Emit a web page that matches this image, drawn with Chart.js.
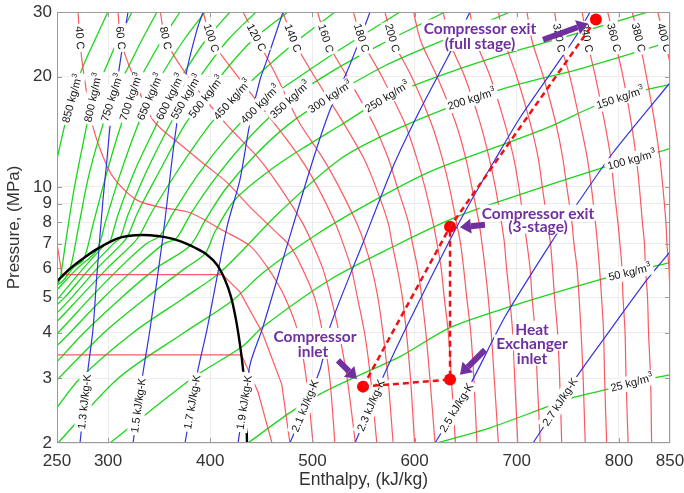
<!DOCTYPE html>
<html>
<head>
<meta charset="utf-8">
<script src="https://cdn.jsdelivr.net/npm/chart.js@4.4.1/dist/chart.umd.min.js"></script>
<style>
  html, body { margin: 0; padding: 0; background: #fff; }
</style>
</head>
<body>
<canvas id="chart" width="684" height="493"></canvas>
<script>
// ---------- values (h in kJ/kg, P in MPa) ----------
const xTicks = [250, 300, 400, 500, 600, 700, 800, 850];
const yTicks = [2, 3, 4, 5, 6, 7, 8, 9, 10, 20, 30];

// pressure grid used by the warmer isotherms
const isoP = [30, 25, 20, 15, 12, 10, 8, 7, 6, 5, 4, 3, 2];
const hotTemps = [80, 100, 120, 140, 160, 180, 200, 220, 240, 260, 280, 300, 320, 340, 360, 380, 400];
const h80  = [351, 357, 378, 414, 447, 468, 490, 500, 510, 518, 526, 534, 542];
const h100 = [393, 402, 427, 462, 488, 505, 522, 530, 538, 544, 551, 557, 563];
const h120 = [432, 447, 465, 487, 510, 526, 543, 551, 558, 564, 569, 574, 579];
const h140 = [471, 482, 502, 530, 550, 562, 574, 578, 583, 588, 592, 596, 600];
const h160 = [505, 514, 534, 559, 574, 583, 594, 598, 603, 607, 611, 615, 620];
const h180 = [540, 549, 568, 590, 602, 610, 618, 622, 626, 629, 633, 636, 640];
const h200 = [571, 579, 597, 616, 627, 634, 641, 645, 648, 651, 655, 658, 661];
const h220 = [599, 606, 622, 640, 650, 656, 663, 666, 669, 672, 675, 678, 682];
const h240 = [628, 634, 649, 664, 673, 679, 685, 688, 690, 693, 696, 698, 701];
const h260 = [654, 660, 674, 688, 697, 702, 707, 710, 713, 715, 718, 720, 723];
const h280 = [682, 688, 700, 713, 721, 725, 730, 733, 735, 737, 740, 742, 744];
const h300 = [710, 715, 726, 738, 745, 749, 754, 756, 759, 761, 763, 765, 767];
const h320 = [737, 742, 752, 762, 769, 773, 777, 779, 781, 783, 785, 786, 788];
const h340 = [764, 769, 777, 786, 792, 795, 799, 801, 803, 804, 806, 807, 809];
const h360 = [789, 796, 804, 812, 817, 820, 823, 825, 826, 828, 829, 831, 832];
const h380 = [813, 820, 827, 835, 840, 843, 846, 847, 849, 850, 852, 853, 855];
const h400 = [838, 845, 853, 861, 866, 869, 872, 874, 875, 877, 878, 880, 881];

// colder isotherms as [h, P]
const t0  = [[200, 3.48], [430.5, 3.48], [446.7, 2.76], [460.4, 2]];
const t20 = [[240, 12], [250, 7], [254.9, 5.76], [412, 5.76], [429, 5.17], [451, 4.0], [470, 2.89], [478, 2]];
const t40 = [[270.6, 30], [272.5, 25], [275.4, 21.1], [285.2, 14.6], [298.9, 11.4], [308.7, 10.3], [328.3, 9.2],
             [350.8, 8.8], [380.2, 8.5], [412.5, 7.6], [438.9, 6.9], [456.5, 6], [473, 5], [486, 4], [494, 3], [500.6, 2]];
const t60 = [[309.7, 30], [312.6, 25], [323, 20.6], [344, 15.2], [373, 12.9], [393, 11.6], [416, 10.3], [439, 8.8],
             [465, 7.5], [478, 6.9], [490, 6], [502, 5], [510, 4], [517, 3], [522, 2]];

// saturation dome
const dome = [[240, 5.15], [250, 5.52], [262.7, 5.98], [275.4, 6.37], [288.2, 6.74], [301.9, 7.08], [313.6, 7.29],
              [326.3, 7.38], [341, 7.38], [355.7, 7.29], [370.4, 7.11], [385.1, 6.82], [396.8, 6.53], [406.6, 6.13],
              [414.4, 5.58], [420.3, 5.01], [425.2, 4.34], [429.1, 3.71], [432.1, 3.17], [435, 2.47], [436, 2]];

// isentropes (kJ/kg-K)
const s13 = [[272.5, 2], [280.3, 3.17], [285.2, 4.08], [289.2, 5.83], [295, 9.22], [298.9, 11.86], [301.9, 14.6],
             [306.8, 17.8], [311.7, 21.8], [316.6, 26.8], [319.5, 30]];
const s15 = [[324.4, 2], [334.2, 3.11], [341, 4.08], [353.7, 7.31], [362.6, 11.86], [367.5, 15], [377.2, 20.9],
             [387, 26.8], [392.9, 30]];
const s17 = [[375.3, 2], [388, 3.17], [396.8, 4.08], [416.4, 7.78], [429.1, 10.46], [438.9, 15], [448.7, 19.6],
             [455.5, 22.2], [471.2, 30]];
const s19 = [[427.2, 2], [438.9, 3.27], [451.6, 4.15], [475.1, 6.9], [500.6, 11.86], [517.2, 16.2], [533.8, 20.6],
             [543.6, 24.1], [556.4, 30]];
const s21 = [[478, 2], [507.4, 3.17], [517.2, 4.15], [549.5, 7.04], [578.9, 11.35], [605.3, 16.2], [632.7, 22.65], [654.2, 30]];
const s23 = [[541.7, 2], [569.1, 3.03], [595.5, 4.34], [634.7, 7.17], [654.2, 9.05], [678.7, 11.86], [703.2, 15.44],
             [742.3, 22.2], [761.9, 26.8], [771.7, 30]];
const s25 = [[620, 2], [654.2, 2.88], [688.5, 4.42], [735.5, 7.17], [761.9, 9.22], [794.2, 12.39], [850, 19.24]];
const s27 = [[715.9, 2], [759.9, 3.07], [793.2, 4.13], [827.5, 5.58], [850, 6.65]];

// isochores (kg/m3)
const d25  = [[621.9, 2], [673.8, 2.2], [729.6, 2.51], [755, 2.66], [788.3, 2.8], [820.6, 2.96], [850, 3.07]];
const d50  = [[437, 2], [478, 2.42], [507.4, 2.72], [546.6, 3.07], [585.7, 3.44], [634.7, 4.13], [693.4, 4.71],
              [788.3, 5.65], [820.6, 5.94], [850, 6.21]];
const d100 = [[301.9, 2], [382.1, 3], [431, 3.66], [451.6, 4.15], [517.2, 5.58], [582.8, 6.95], [634.7, 8.14],
              [673.8, 8.94], [784.4, 11.28], [812.8, 11.86], [850, 12.71]];
const d150 = [[251, 2], [309.7, 3], [374.3, 4], [421.5, 4.89], [451.6, 5.83], [500.6, 7.31], [549.5, 8.83], [615.1, 11],
              [680.7, 12.87], [732.5, 14.6], [774.6, 16.54], [801.1, 17.5], [827.5, 18.41], [850, 19]];
const d200 = [[236, 2.2], [250, 2.5], [272.5, 3], [324.4, 4], [375.3, 5], [410.5, 5.87], [468.3, 8.55], [527, 11.9],
              [585.7, 14.5], [654.2, 17.3], [703.2, 19.1], [761.9, 21], [852.9, 25]];
const d250 = [[240, 2.75], [251, 2.99], [296, 4.0], [338.1, 5.0], [376.3, 6.02], [394.9, 6.57], [404.6, 7.54], [424.2, 9.22],
              [458.5, 11.1], [487.8, 12.6], [527, 14.7], [573, 17.6], [635.6, 20.6], [692.4, 23.2], [754.1, 26], [835.3, 30.4]];
const d300 = [[240, 3.1], [250, 3.33], [276.4, 4], [313.6, 5], [347.9, 6.02], [380.2, 6.91], [394.9, 8.09], [414.4, 9.82],
              [443.8, 12.2], [478, 14.9], [517.2, 17.6], [571, 21.4], [624.9, 24.9], [693.4, 30]];
const d350 = [[240, 3.5], [250, 3.69], [262.7, 4], [296, 5], [327.3, 6.02], [354.7, 7], [366.5, 7.22], [382.1, 8.55],
              [407.6, 10.8], [440.9, 13.9], [478, 17.3], [517.2, 20.5], [566.1, 24.4], [629.8, 30]];
const d400 = [[240, 3.75], [250, 3.97], [283.3, 5], [311.7, 6.02], [337.6, 7], [350.8, 7.36], [362.6, 8.39], [388, 10.8],
              [419.3, 13.9], [448.7, 16.8], [482.9, 19.6], [527, 23.7], [585.7, 30]];
const d450 = [[240, 4.05], [250, 4.29], [272.5, 5], [299.9, 6.02], [324.4, 7], [331.2, 7.4], [343, 8.55], [368.4, 11.1],
              [399.8, 14.8], [421.3, 17.3], [446.7, 20.2], [480, 24.4], [522.1, 30]];
const d500 = [[240, 4.3], [250, 4.53], [264.7, 5], [290.1, 6.02], [313.6, 7], [319.5, 7.36], [329.3, 8.55], [350.8, 11.1],
              [375.3, 14.8], [395.8, 17.6], [415.4, 20.9], [441.8, 25.2], [476.1, 30]];
const d550 = [[240, 4.5], [250, 4.77], [257.8, 5], [282.8, 6.02], [305.3, 7], [311.7, 7.25], [319.5, 8.39], [338.1, 11.1],
              [360.6, 14.8], [376.3, 17.6], [394.9, 20.9], [417.4, 25.2], [444.8, 30]];
const d600 = [[240, 4.6], [250, 4.92], [276.4, 6.02], [298, 7], [302, 7.1], [309.7, 8.39], [326.3, 11.1], [345.9, 14.5],
              [360.6, 17.6], [376.3, 20.9], [395.8, 25.2], [419.3, 30]];
const d650 = [[240, 4.9], [250, 5.24], [270.6, 6.02], [289, 6.72], [298, 8.14], [311.7, 10.8], [327.3, 14.3], [341, 17.6],
              [355.7, 20.9], [374.3, 25.2], [394.9, 30]];
const d700 = [[245, 5.3], [254.9, 5.51], [266.1, 6.02], [276, 6.33], [285.2, 7.88], [297, 10.5], [309.7, 13.9],
              [322.4, 17.6], [336.1, 20.9], [352.8, 25.2], [370.4, 30]];
const d750 = [[255, 5.65], [262.7, 5.98], [270.6, 7.64], [280.3, 10.5], [292.1, 13.9], [303.8, 17.5], [318.5, 20.9],
              [333.2, 25.2], [347.9, 30]];
const d800 = [[250, 5.4], [252.9, 5.58], [258.8, 7.17], [266.6, 9.82], [276.4, 13.5], [285.2, 17.5], [297, 20.9],
              [309.7, 25.2], [323.4, 30]];
const d850 = [[241.2, 9.22], [250, 11.9], [257.8, 14.8], [264.7, 17.4], [275.4, 21.3], [287.2, 25.2], [301, 30.5]];

// label anchors [h, P]
const tempNames = [40, 60, 80, 100, 120, 140, 160, 180, 200, 220, 240, 260, 280, 300, 320, 340, 360, 380, 400];
const tempLabelH = [272.5, 312.6, 357.7, 401.7, 444.8, 482, 515.2, 548.5, 578.9, 606.3, 633.7, 660.1, 687.5,
                    714.9, 742.3, 768.7, 794.2, 817.7, 843.1];
const tempLabelP = 25.5;
const rhoNames = [25, 50, 100, 150, 200, 250, 300, 350, 400, 450, 500, 550, 600, 650, 700, 750, 800, 850];
const rhoLabelAt = [[812.8, 2.9], [810.8, 5.8], [812.8, 11.7], [801.1, 17.5], [655.2, 17.5], [573, 17.6], [517.2, 17.6],
                    [478, 17.3], [448.7, 16.8], [421.3, 17.3], [395.8, 17.6], [376.3, 17.6], [360.6, 17.6], [341, 17.6],
                    [322.4, 17.6], [303.8, 17.5], [285.2, 17.5], [264.7, 17.4]];
const sNames = ['1.3', '1.5', '1.7', '1.9', '2.1', '2.3', '2.5', '2.7'];
const sLabelAt = [[278.4, 2.59], [326.3, 2.54], [381.2, 2.59], [430.1, 2.59], [490.8, 2.54], [556.4, 2.54],
                  [639.6, 2.51], [742.3, 2.59]];

// cycle states
const inlet = [549.5, 2.85];
const hxInlet = [634.7, 2.98];
const exit3 = [634.7, 7.78];
const exitFull = [777.5, 28.6];

// call-out text anchors and arrows [h, P]
const noteFull = [[664, 27.2], [664, 24.7]];
const note3 = [[720.8, 8.5], [720.8, 7.84]];
const noteInlet = [[502.5, 3.92], [500.6, 3.57]];
const noteHx = [[714.9, 4.1], [714.9, 3.76], [714.9, 3.42]];
const arrowFull = [[725.7, 25.2], [769.7, 27.9]];
const arrow3 = [[668.9, 7.88], [644.4, 7.76]];
const arrowInlet = [[525, 3.36], [543.6, 2.99]];
const arrowHx = [[668.9, 3.59], [644.4, 3.07]];

// ---------- chart ----------
const FONT = '"Liberation Sans", Arial, Helvetica, sans-serif';
const RED = 'rgba(250, 60, 70, 0.85)';
const GREEN = 'rgb(25, 215, 25)';
const BLUE = 'rgb(50, 50, 225)';
const PURPLE = '#7030a0';

const hotH = [h80, h100, h120, h140, h160, h180, h200, h220, h240, h260, h280, h300, h320, h340, h360, h380, h400];
const hotCurves = hotH.map(arr => arr.map((h, i) => [h, isoP[i]]));
const isotherms = [t40, t60].concat(hotCurves);   // the labelled ones, 40..400 C
const isentropes = [s13, s15, s17, s19, s21, s23, s25, s27];
const isochores = [d25, d50, d100, d150, d200, d250, d300, d350, d400, d450, d500, d550, d600, d650, d700, d750, d800, d850];

const xy = arr => arr.map(p => ({ x: p[0], y: p[1] }));
function curve(arr, color, width, tension) {
  return { data: xy(arr), borderColor: color, backgroundColor: color, borderWidth: width,
           pointRadius: 0, showLine: true, fill: false, tension: tension };
}

const datasets = [
  Object.assign(curve([inlet, exit3, exitFull], '#ee1111', 2.5, 0), { borderDash: [6, 4] }),
  Object.assign(curve([inlet, hxInlet, exit3], '#ee1111', 2.5, 0), { borderDash: [6, 4] }),
  { data: xy([inlet, hxInlet, exit3, exitFull]), showLine: false, pointRadius: 6, pointHoverRadius: 6,
    backgroundColor: '#ff0000', borderColor: '#ff0000', borderWidth: 0 },
  curve(dome, '#000', 2.4, 0.35)
];
const FIRST_CURVE = datasets.length - 1;   // labels go on after this one is painted
isentropes.forEach(s => datasets.push(curve(s, BLUE, 1.2, 0.25)));
datasets.push(curve(t0, RED, 1.2, 0), curve(t20, RED, 1.2, 0));
isotherms.forEach(t => datasets.push(curve(t, RED, 1.2, 0.3)));
isochores.forEach(d => datasets.push(curve(d, GREEN, 1.3, 0.3)));

// nearest point of a curve to an anchor, in pixels, with the local direction
function onCurve(chart, arr, at) {
  const xs = chart.scales.x, ys = chart.scales.y;
  const ax = xs.getPixelForValue(at[0]), ay = ys.getPixelForValue(at[1]);
  let best = null;
  for (let i = 0; i < arr.length - 1; i++) {
    const x1 = xs.getPixelForValue(arr[i][0]), y1 = ys.getPixelForValue(arr[i][1]);
    const x2 = xs.getPixelForValue(arr[i + 1][0]), y2 = ys.getPixelForValue(arr[i + 1][1]);
    const dx = x2 - x1, dy = y2 - y1, L = dx * dx + dy * dy;
    let t = L ? ((ax - x1) * dx + (ay - y1) * dy) / L : 0;
    t = Math.max(0, Math.min(1, t));
    const px = x1 + t * dx, py = y1 + t * dy, d = (px - ax) ** 2 + (py - ay) ** 2;
    if (!best || d < best.d) best = { d, px, py, dx, dy };
  }
  let dx = best.dx, dy = best.dy;
  if (dx < 0) { dx = -dx; dy = -dy; }
  return { x: best.px, y: best.py, a: Math.atan2(dy, dx) };
}

function drawLabel(ctx, pos, text, sup) {
  ctx.save();
  ctx.translate(pos.x, pos.y);
  ctx.rotate(pos.a);
  ctx.font = '11px ' + FONT;
  const w1 = ctx.measureText(text).width;
  ctx.font = '7.5px ' + FONT;
  const w2 = sup ? ctx.measureText(sup).width : 0;
  const w = w1 + w2;
  ctx.fillStyle = '#fff';
  ctx.fillRect(-w / 2 - 2.5, -7.5, w + 5, 15);
  ctx.fillStyle = '#111';
  ctx.textBaseline = 'middle';
  ctx.textAlign = 'left';
  ctx.font = '11px ' + FONT;
  ctx.fillText(text, -w / 2, 0.5);
  if (sup) {
    ctx.font = '7.5px ' + FONT;
    ctx.fillText(sup, -w / 2 + w1 + 0.3, -3.5);
  }
  ctx.restore();
}

const labelPlugin = {
  id: 'curveLabels',
  afterDatasetDraw(chart, args) {
    if (args.index !== FIRST_CURVE) return;
    const ctx = chart.ctx;
    ctx.save();
    ctx.beginPath();
    ctx.rect(chart.chartArea.left, chart.chartArea.top, chart.chartArea.width, chart.chartArea.height);
    ctx.clip();
    isochores.forEach((d, i) => drawLabel(ctx, onCurve(chart, d, rhoLabelAt[i]), rhoNames[i] + ' kg/m', '3'));
    isentropes.forEach((s, i) => drawLabel(ctx, onCurve(chart, s, sLabelAt[i]), sNames[i] + ' kJ/kg-K'));
    isotherms.forEach((t, i) => {
      // 220-300 C sit under the call-out text in the reference
      if (tempNames[i] > 200 && tempNames[i] < 320) return;
      drawLabel(ctx, onCurve(chart, t, [tempLabelH[i], tempLabelP]), tempNames[i] + ' C');
    });
    ctx.restore();
  }
};

function arrow(ctx, a, b) {
  const ang = Math.atan2(b.y - a.y, b.x - a.x);
  const head = 11, half = 7.5;
  const bx = b.x - head * Math.cos(ang), by = b.y - head * Math.sin(ang);
  ctx.strokeStyle = PURPLE; ctx.fillStyle = PURPLE;
  ctx.lineWidth = 6; ctx.lineCap = 'butt';
  ctx.beginPath(); ctx.moveTo(a.x, a.y); ctx.lineTo(bx, by); ctx.stroke();
  ctx.beginPath();
  ctx.moveTo(b.x, b.y);
  ctx.lineTo(bx + half * Math.sin(ang), by - half * Math.cos(ang));
  ctx.lineTo(bx - half * Math.sin(ang), by + half * Math.cos(ang));
  ctx.closePath(); ctx.fill();
}

const framePlugin = {
  id: 'frameAndNotes',
  afterDraw(chart) {
    const ctx = chart.ctx, ca = chart.chartArea, xs = chart.scales.x, ys = chart.scales.y;
    const px = p => ({ x: xs.getPixelForValue(p[0]), y: ys.getPixelForValue(p[1]) });
    ctx.save();
    // frame and inward ticks
    ctx.strokeStyle = '#9a9a9a';
    ctx.lineWidth = 1;
    ctx.strokeRect(ca.left + 0.5, ca.top + 0.5, ca.width - 1, ca.height - 1);
    ctx.beginPath();
    xTicks.slice(1, -1).forEach(v => {
      const x = Math.round(xs.getPixelForValue(v)) + 0.5;
      ctx.moveTo(x, ca.bottom); ctx.lineTo(x, ca.bottom - 5);
      ctx.moveTo(x, ca.top); ctx.lineTo(x, ca.top + 5);
    });
    yTicks.slice(1, -1).forEach(v => {
      const y = Math.round(ys.getPixelForValue(v)) + 0.5;
      ctx.moveTo(ca.left, y); ctx.lineTo(ca.left + 5, y);
      ctx.moveTo(ca.right, y); ctx.lineTo(ca.right - 5, y);
    });
    ctx.stroke();

    // call-outs
    const notes = [[noteFull, ['Compressor exit', '(full stage)']],
                   [note3, ['Compressor exit', '(3-stage)']],
                   [noteInlet, ['Compressor', 'inlet']],
                   [noteHx, ['Heat', 'Exchanger', 'inlet']]];
    ctx.font = 'bold 15.5px Lato, "Open Sans", sans-serif';
    ctx.textAlign = 'center';
    ctx.textBaseline = 'middle';
    notes.forEach(([at, lines]) => {
      lines.forEach((txt, i) => {
        const p = px(at[i]);
        const w = ctx.measureText(txt).width;
        ctx.fillStyle = '#fff';
        ctx.fillRect(p.x - w / 2 - 2, p.y - 8, w + 4, 16);
      });
      lines.forEach((txt, i) => {
        const p = px(at[i]);
        ctx.fillStyle = PURPLE;
        ctx.fillText(txt, p.x, p.y + 1);
      });
    });
    [arrowFull, arrow3, arrowInlet, arrowHx].forEach(ar => arrow(ctx, px(ar[0]), px(ar[1])));
    ctx.restore();
  }
};

new Chart(document.getElementById('chart'), {
  type: 'scatter',
  data: { datasets },
  options: {
    responsive: false,
    devicePixelRatio: 1,
    animation: false,
    events: [],
    layout: { padding: { left: 0, right: 14, top: 12, bottom: 0 } },
    plugins: { legend: { display: false }, tooltip: { enabled: false } },
    scales: {
      x: {
        type: 'linear', min: 250, max: 850,
        afterBuildTicks: s => { s.ticks = xTicks.map(v => ({ value: v })); },
        afterFit: s => { s.height = 50; s.paddingLeft = 0; s.paddingRight = 0; },
        ticks: { font: { family: FONT, size: 17 }, color: '#333', padding: 8, maxRotation: 0, autoSkip: false },
        grid: { color: '#ececec', drawTicks: false },
        border: { display: false },
        title: { display: true, text: 'Enthalpy, (kJ/kg)', font: { family: FONT, size: 17.5 }, color: '#333',
                 padding: { top: 0, bottom: 2 } }
      },
      y: {
        type: 'logarithmic', min: 2, max: 30,
        afterBuildTicks: s => { s.ticks = yTicks.map(v => ({ value: v })); },
        afterFit: s => { s.width = 57; s.paddingTop = 0; s.paddingBottom = 0; },
        ticks: { callback: v => String(v), font: { family: FONT, size: 17 }, color: '#333', padding: 5, autoSkip: false },
        grid: { color: '#ececec', drawTicks: false },
        border: { display: false },
        title: { display: true, text: 'Pressure, (MPa)', font: { family: FONT, size: 17 }, color: '#333',
                 padding: { top: 4, bottom: 0 } }
      }
    }
  },
  plugins: [labelPlugin, framePlugin]
});
</script>
</body>
</html>
